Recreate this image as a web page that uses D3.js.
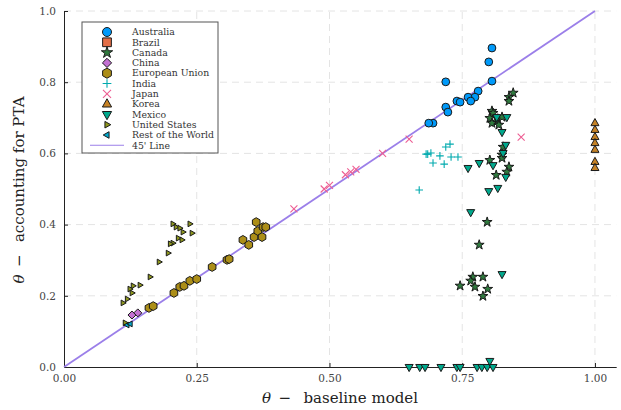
<!DOCTYPE html>
<html>
<head>
<meta charset="utf-8">
<script src="https://cdn.jsdelivr.net/npm/d3@7"></script>
<style>
  body { margin: 0; background: #fff; }
  text { font-family: "DejaVu Serif", "Liberation Serif", serif; }
</style>
</head>
<body>
<svg id="chart" width="621" height="410"></svg>
<script>
// values
var au_x = [0.806, 0.800, 0.806, 0.719, 0.780, 0.774, 0.761, 0.766, 0.740, 0.746, 0.719, 0.723, 0.695, 0.687];
var au_y = [0.896, 0.857, 0.803, 0.801, 0.775, 0.758, 0.758, 0.747, 0.747, 0.744, 0.730, 0.716, 0.685, 0.685];

var ca_x = [0.846, 0.838, 0.838, 0.806, 0.808, 0.802, 0.812, 0.817, 0.825, 0.819, 0.806, 0.827, 0.825, 0.825, 0.802, 0.838, 0.834, 0.814,
            0.797, 0.782, 0.770, 0.789, 0.766, 0.746, 0.774, 0.798, 0.789];
var ca_y = [0.770, 0.758, 0.747, 0.719, 0.713, 0.699, 0.688, 0.697, 0.702, 0.680, 0.685, 0.618, 0.596, 0.587, 0.581, 0.562, 0.548, 0.539,
            0.407, 0.343, 0.253, 0.253, 0.242, 0.228, 0.225, 0.219, 0.199];

var ch_x = [0.128, 0.139];
var ch_y = [0.146, 0.152];

var eu_x = [0.160, 0.168, 0.207, 0.218, 0.226, 0.237, 0.250, 0.279, 0.307, 0.311, 0.337, 0.348, 0.358, 0.362, 0.365, 0.375, 0.380, 0.373];
var eu_y = [0.166, 0.171, 0.208, 0.225, 0.228, 0.242, 0.247, 0.281, 0.301, 0.303, 0.357, 0.343, 0.365, 0.407, 0.382, 0.393, 0.393, 0.365];

var in_x = [0.727, 0.719, 0.691, 0.685, 0.682, 0.708, 0.729, 0.742, 0.695, 0.716, 0.669];
var in_y = [0.626, 0.618, 0.601, 0.598, 0.598, 0.593, 0.590, 0.590, 0.573, 0.570, 0.497];

var jp_x = [0.433, 0.490, 0.500, 0.530, 0.540, 0.550, 0.600, 0.650, 0.861];
var jp_y = [0.444, 0.500, 0.510, 0.540, 0.548, 0.555, 0.600, 0.640, 0.646];

var ko_x = [1.0, 1.0, 1.0, 1.0, 1.0, 1.0, 1.0];
var ko_y = [0.685, 0.666, 0.646, 0.629, 0.610, 0.576, 0.559];

var mx_x = [0.815, 0.834, 0.825, 0.832, 0.827, 0.761, 0.782, 0.808, 0.832, 0.800, 0.817, 0.766, 0.825,
            0.650, 0.670, 0.680, 0.710, 0.740, 0.746, 0.778, 0.787, 0.797, 0.808, 0.802];
var mx_y = [0.702, 0.702, 0.660, 0.624, 0.601, 0.559, 0.573, 0.567, 0.534, 0.494, 0.503, 0.435, 0.261,
            0.0, 0.0, 0.0, 0.0, 0.0, 0.0, 0.0, 0.0, 0.0, 0.0, 0.017];

var us_x = [0.205, 0.211, 0.218, 0.224, 0.237, 0.241, 0.215, 0.222, 0.205, 0.200, 0.196, 0.179, 0.162, 0.143, 0.130, 0.124, 0.128, 0.119, 0.111, 0.115];
var us_y = [0.402, 0.393, 0.390, 0.379, 0.402, 0.376, 0.362, 0.357, 0.348, 0.346, 0.320, 0.295, 0.253, 0.230, 0.228, 0.219, 0.208, 0.191, 0.180, 0.124];

var rw_x = [0.119, 0.125];
var rw_y = [0.118, 0.121];

var br_x = [];
var br_y = [];

var x_ticks = [0, 0.25, 0.5, 0.75, 1.0];
var y_ticks = [0, 0.2, 0.4, 0.6, 0.8, 1.0];

var series = [
  {name: "Australia", xs: au_x, ys: au_y, shape: "circle", color: "#009AFA", r: 3.9},
  {name: "Brazil", xs: br_x, ys: br_y, shape: "square", color: "#E36F47", r: 3.8},
  {name: "Canada", xs: ca_x, ys: ca_y, shape: "star", color: "#2F7A3E", r: 3.4},
  {name: "China", xs: ch_x, ys: ch_y, shape: "diamond", color: "#C371D2", r: 4},
  {name: "European Union", xs: eu_x, ys: eu_y, shape: "hexagon", color: "#AC8E18", r: 4.4},
  {name: "India", xs: in_x, ys: in_y, shape: "plus", color: "#00AAAE", r: 3.8},
  {name: "Japan", xs: jp_x, ys: jp_y, shape: "xcross", color: "#ED5E93", r: 3.5},
  {name: "Korea", xs: ko_x, ys: ko_y, shape: "utriangle", color: "#C68225", r: 4.2},
  {name: "Mexico", xs: mx_x, ys: mx_y, shape: "dtriangle", color: "#00A98D", r: 4.2},
  {name: "United States", xs: us_x, ys: us_y, shape: "rtriangle", color: "#8E971D", r: 3},
  {name: "Rest of the World", xs: rw_x, ys: rw_y, shape: "ltriangle", color: "#00A9CD", r: 3}
];

function poly(pts) {
  return "M" + pts.map(function(p) { return p[0].toFixed(2) + "," + p[1].toFixed(2); }).join("L") + "Z";
}

function shapePath(shape, r) {
  var k = 0.866;
  if (shape == "circle") return d3.symbol(d3.symbolCircle, Math.PI * r * r)();
  if (shape == "square") return poly([[-r, -r], [r, -r], [r, r], [-r, r]]);
  if (shape == "star") return d3.symbol(d3.symbolStar, r * r * 2.6)();
  if (shape == "diamond") return poly([[0, -r], [r, 0], [0, r], [-r, 0]]);
  if (shape == "hexagon") {
    var pts = [];
    for (var i = 0; i < 6; i++) {
      var a = Math.PI / 180 * (-90 + 60 * i);
      pts.push([r * Math.cos(a), r * Math.sin(a)]);
    }
    return poly(pts);
  }
  if (shape == "utriangle") return poly([[0, -r * 1.1], [r * k * 1.1, r * 0.6], [-r * k * 1.1, r * 0.6]]);
  if (shape == "dtriangle") return poly([[0, r * 1.1], [r * k * 1.1, -r * 0.6], [-r * k * 1.1, -r * 0.6]]);
  if (shape == "rtriangle") return poly([[r * 1.1, 0], [-r * 0.6, r * k * 1.1], [-r * 0.6, -r * k * 1.1]]);
  if (shape == "ltriangle") return poly([[-r * 1.1, 0], [r * 0.6, r * k * 1.1], [r * 0.6, -r * k * 1.1]]);
  if (shape == "plus") return "M" + (-r) + ",0L" + r + ",0M0," + (-r) + "L0," + r;
  if (shape == "xcross") return "M" + (-r) + "," + (-r) + "L" + r + "," + r + "M" + (-r) + "," + r + "L" + r + "," + (-r);
}

function isLine(shape) { return shape == "plus" || shape == "xcross"; }

var svg = d3.select("#chart");

var x_scaler = d3.scaleLinear().domain([0, 1.04]).range([64, 616.2]);
var y_scaler = d3.scaleLinear().domain([0, 1]).range([367, 11]);

// grid
var grid = svg.append("g");
grid.selectAll(".gx")
  .data(x_ticks.slice(1))
  .enter().append("line")
  .attr("x1", function(d) { return x_scaler(d); })
  .attr("x2", function(d) { return x_scaler(d); })
  .attr("y1", y_scaler(0)).attr("y2", y_scaler(1))
  .style("stroke", "#e4e4e4").style("stroke-width", 1).style("stroke-dasharray", "7,5");
grid.selectAll(".gy")
  .data(y_ticks.slice(1))
  .enter().append("line")
  .attr("x1", x_scaler(0)).attr("x2", x_scaler(1.04))
  .attr("y1", function(d) { return y_scaler(d); })
  .attr("y2", function(d) { return y_scaler(d); })
  .style("stroke", "#e4e4e4").style("stroke-width", 1).style("stroke-dasharray", "7,5");

// axes
var x_axis = svg.append("g")
  .attr("transform", "translate(0," + y_scaler(0) + ")")
  .call(d3.axisBottom(x_scaler).tickValues(x_ticks).tickFormat(d3.format(".2f")).tickSizeInner(-4).tickSizeOuter(0).tickPadding(8));
var y_axis = svg.append("g")
  .attr("transform", "translate(" + x_scaler(0) + ",0)")
  .call(d3.axisLeft(y_scaler).tickValues(y_ticks).tickFormat(d3.format(".1f")).tickSizeInner(-4).tickSizeOuter(0).tickPadding(8));
[x_axis, y_axis].forEach(function(a) {
  a.select(".domain").style("stroke", "#222").style("stroke-width", 1);
  a.selectAll(".tick line").style("stroke", "#222");
  a.selectAll(".tick text").style("font-family", "DejaVu Serif, serif").style("font-size", "10.5px").style("fill", "#444");
});

// 45 degree line
svg.append("line")
  .attr("x1", x_scaler(0)).attr("y1", y_scaler(0))
  .attr("x2", x_scaler(1)).attr("y2", y_scaler(1))
  .style("stroke", "#9B7FE9").style("stroke-width", 1.8);

// points
series.forEach(function(s) {
  var pts = s.xs.map(function(v, i) { return [v, s.ys[i]]; });
  svg.append("g").selectAll("path")
    .data(pts)
    .enter().append("path")
    .attr("d", shapePath(s.shape, s.r))
    .attr("transform", function(d) { return "translate(" + x_scaler(d[0]) + "," + y_scaler(d[1]) + ")"; })
    .style("fill", isLine(s.shape) ? "none" : s.color)
    .style("stroke", isLine(s.shape) ? s.color : "#1a1a1a")
    .style("stroke-width", isLine(s.shape) ? 1.1 : 1);
});

// axis labels
svg.append("text")
  .attr("x", 340).attr("y", 403)
  .attr("text-anchor", "middle")
  .style("font-size", "15px")
  .style("fill", "#222")
  .html('<tspan font-style="italic">θ</tspan>\u2002−\u2002 baseline model');
svg.append("text")
  .attr("transform", "translate(24,190) rotate(-90)")
  .attr("text-anchor", "middle")
  .style("font-size", "15px")
  .style("fill", "#222")
  .html('<tspan font-style="italic">θ</tspan>\u2002−\u2002 accounting for PTA');

// legend
var legend_box = svg.append("g");
legend_box.append("rect")
  .attr("x", 82).attr("y", 22).attr("width", 136).attr("height", 131)
  .style("fill", "#fff").style("stroke", "#555").style("stroke-width", 1);

var legend_items = series.map(function(s) { return s; }).concat([{name: "45' Line", shape: "line", color: "#9B7FE9"}]);
var legend = legend_box.selectAll(".legend")
  .data(legend_items)
  .enter().append("g")
  .attr("class", "legend")
  .attr("transform", function(d, i) { return "translate(0," + (32 + i * 10.3) + ")"; });

legend.each(function(d) {
  var g = d3.select(this);
  if (d.shape == "line") {
    g.append("line").attr("x1", 90).attr("x2", 124).attr("y1", 0).attr("y2", 0)
      .style("stroke", d.color).style("stroke-width", 1.1);
  } else {
    g.append("path")
      .attr("d", shapePath(d.shape, d.r * 1.15))
      .attr("transform", "translate(107,0)")
      .style("fill", isLine(d.shape) ? "none" : d.color)
      .style("stroke", isLine(d.shape) ? d.color : "#1a1a1a")
      .style("stroke-width", isLine(d.shape) ? 1.1 : 1);
  }
});

legend.append("text")
  .attr("x", 132)
  .attr("y", 0)
  .attr("dy", ".35em")
  .style("font-size", "9.3px")
  .style("fill", "#333")
  .text(function(d) { return d.name; });
</script>
</body>
</html>
